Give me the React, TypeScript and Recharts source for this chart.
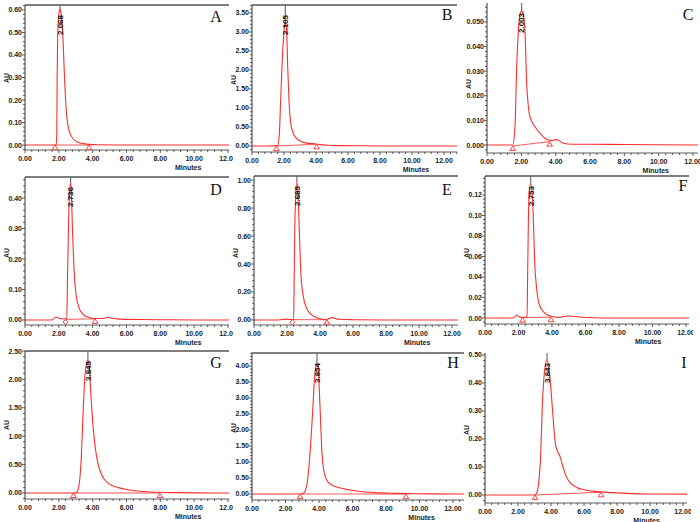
import React from "react";
import { ComposedChart, Line, Scatter, XAxis, YAxis, ReferenceLine } from "recharts";

const RED = "#ff2d2d";
const AXIS = "#333";
const SANS = "'Liberation Sans', Arial, sans-serif";
const SERIF = "'Liberation Serif', 'DejaVu Serif', serif";

const xMajors = [0, 2, 4, 6, 8, 10, 12];
const panelLetters = ["A", "B", "C", "D", "E", "F", "G", "H", "I"];

// chromatogram traces: minutes / AU
const timeA = [0, 1.0, 1.84, 1.88, 1.9, 1.93, 1.98, 2.03, 2.07, 2.12, 2.18, 2.23, 2.31, 2.4, 2.52, 2.7, 3.05, 3.64, 4.3, 6, 8, 10, 12.06];
const auA = [0, 0, 0, 0.05, 0.3, 0.48, 0.56, 0.595, 0.605, 0.59, 0.55, 0.5, 0.35, 0.2, 0.096, 0.044, 0.015, 0.004, 0.001, 0, 0, 0, 0];

const timeB = [0, 1.0, 1.6, 1.71, 1.79, 1.875, 1.96, 2.03, 2.08, 2.13, 2.17, 2.23, 2.31, 2.42, 2.58, 2.79, 3.1, 3.52, 3.94, 4.25, 4.77, 5.5, 7, 9, 12.81];
const auB = [0, 0, 0.01, 0.33, 1.21, 2.09, 2.79, 3.15, 3.25, 3.15, 2.97, 2.09, 1.21, 0.6, 0.33, 0.2, 0.11, 0.07, 0.06, 0.035, 0.018, 0.01, 0.005, 0, 0];

const timeC = [0, 1.0, 1.5, 1.63, 1.73, 1.83, 1.92, 2.02, 2.12, 2.21, 2.31, 2.41, 2.5, 2.8, 3.18, 3.57, 3.86, 4.0, 4.15, 4.45, 4.93, 6, 8, 10, 12.29];
const auC = [0, 0, 0, 0.0074, 0.0318, 0.0467, 0.0528, 0.0545, 0.0528, 0.0467, 0.0251, 0.0156, 0.0115, 0.0074, 0.004, 0.002, 0.0018, 0.0023, 0.0019, 0.0007, 0.0003, 0.0003, 0.0002, 0.0001, 0];

const timeD = [0, 1.6, 1.83, 2.0, 2.3, 2.47, 2.52, 2.58, 2.62, 2.7, 2.76, 2.82, 2.9, 3.01, 3.17, 3.41, 3.74, 4.14, 4.63, 4.87, 5.22, 6, 8, 10, 12.06];
const auD = [0, 0, 0.0098, 0.006, 0.004, 0.004, 0.164, 0.328, 0.404, 0.45, 0.383, 0.273, 0.164, 0.087, 0.044, 0.02, 0.009, 0.005, 0.005, 0.008, 0.005, 0.002, 0.001, 0, 0];

const timeE = [0, 1.5, 1.9, 2.2, 2.4, 2.44, 2.48, 2.52, 2.6, 2.69, 2.77, 2.85, 2.99, 3.19, 3.5, 3.9, 4.3, 4.75, 5.11, 6, 8, 12.36];
const auE = [0, 0, 0.006, 0.003, 0.005, 0.357, 0.714, 0.857, 0.988, 0.833, 0.548, 0.31, 0.167, 0.083, 0.036, 0.012, 0.002, 0.017, 0.005, 0.002, 0, 0];

const timeF = [0, 1.7, 1.89, 2.03, 2.3, 2.51, 2.55, 2.59, 2.63, 2.73, 2.83, 2.89, 2.97, 3.07, 3.22, 3.48, 3.88, 4.38, 4.97, 6, 8, 12.18];
const auF = [0, 0, 0.003, 0.0013, 0.0005, 0.0013, 0.047, 0.095, 0.122, 0.131, 0.118, 0.095, 0.053, 0.031, 0.0144, 0.0062, 0.002, 0.0006, 0.002, 0.0005, 0, 0];

const timeG = [0, 3.0, 3.05, 3.21, 3.33, 3.45, 3.54, 3.62, 3.72, 3.8, 3.88, 3.98, 4.1, 4.27, 4.53, 4.93, 5.52, 6.2, 7.19, 7.98, 8.96, 10, 12.06];
const auG = [0, 0, 0.006, 0.17, 0.64, 1.52, 2.05, 2.25, 2.34, 2.22, 1.81, 1.34, 0.93, 0.58, 0.32, 0.17, 0.094, 0.053, 0.023, 0.012, 0.006, 0.002, 0];

const timeH = [0, 2.9, 3.06, 3.26, 3.4, 3.52, 3.64, 3.74, 3.82, 3.88, 3.96, 4.02, 4.1, 4.18, 4.28, 4.46, 4.76, 5.35, 6.15, 7.34, 8.54, 9.53, 10.5, 12.66];
const auH = [0, 0, 0.02, 0.23, 0.85, 1.69, 2.73, 3.67, 4.0, 4.08, 3.875, 3.25, 2.21, 1.27, 0.75, 0.44, 0.28, 0.177, 0.1, 0.042, 0.02, 0.01, 0.003, 0];

const timeI = [0, 3.0, 3.13, 3.27, 3.37, 3.47, 3.56, 3.64, 3.76, 3.88, 4.0, 4.12, 4.26, 4.4, 4.55, 4.69, 4.89, 5.15, 5.55, 6.06, 6.87, 7.68, 8.89, 10.1, 12.24];
const auI = [0, 0, 0.006, 0.054, 0.137, 0.315, 0.41, 0.458, 0.482, 0.446, 0.375, 0.28, 0.185, 0.155, 0.137, 0.107, 0.071, 0.044, 0.027, 0.018, 0.012, 0.0083, 0.0048, 0.0036, 0.003];

// peak start / end marks (also the drawn baseline)
const markTime = [[1.77, 3.78], [1.52, 4.04], [1.5, 3.65], [2.4, 4.14], [2.32, 4.42], [2.25, 3.94], [2.86, 7.98], [2.87, 9.19], [3.03, 7.03]];
const markAu = [[0, 0], [0, 0.045], [-0.0004, 0.0014], [0.002, 0.004], [0.002, 0.002], [0.0004, 0.0008], [0, 0], [0, 0], [0, 0.01]];
const markKind = [["tri", "tri"], ["tri", "tri"], ["tri", "tri"], ["dia", "tri"], ["dia", "tri"], ["tri", "tri"], ["tri", "tri"], ["tri", "tri"], ["tri", "tri"]];

// retention time labels
const peakTime = [2.07, 2.08, 2.02, 2.7, 2.6, 2.73, 3.72, 3.88, 3.76];
const peakAu = [0.605, 3.25, 0.0545, 0.45, 0.988, 0.131, 2.34, 4.08, 0.482];
const peakText = ["2.068", "2.105", "2.003", "2.736", "2.685", "2.753", "3.845", "3.854", "3.843"];

// y axis labelled ticks
const yMajorsA = [0, 0.1, 0.2, 0.3, 0.4, 0.5, 0.6];
const yMajorsB = [0, 0.5, 1, 1.5, 2, 2.5, 3, 3.5];
const yMajorsC = [0, 0.01, 0.02, 0.03, 0.04, 0.05];
const yMajorsD = [0, 0.1, 0.2, 0.3, 0.4];
const yMajorsE = [0, 0.2, 0.4, 0.6, 0.8, 1.0];
const yMajorsF = [0, 0.02, 0.04, 0.06, 0.08, 0.1, 0.12];
const yMajorsG = [0, 0.5, 1, 1.5, 2, 2.5];
const yMajorsH = [0, 0.5, 1, 1.5, 2, 2.5, 3, 3.5, 4];
const yMajorsI = [0, 0.1, 0.2, 0.3, 0.4, 0.5];

const traces = [
  [timeA, auA], [timeB, auB], [timeC, auC],
  [timeD, auD], [timeE, auE], [timeF, auF],
  [timeG, auG], [timeH, auH], [timeI, auI],
];
const yMajors = [yMajorsA, yMajorsB, yMajorsC, yMajorsD, yMajorsE, yMajorsF, yMajorsG, yMajorsH, yMajorsI];

// plot boxes in page pixels + visible axis ranges
const LAYOUT = [
  { left: 25, top: 5, right: 229, bottom: 150, xMax: 12.06, yMin: -0.022, yMax: 0.622, dec: 2, topLine: true, lx: 216, ly: 17, auY: 78 },
  { left: 252, top: 5, right: 457, bottom: 152, xMax: 12.81, yMin: -0.158, yMax: 3.71, dec: 2, topLine: true, lx: 447, ly: 15, auY: 80 },
  { left: 487, top: 3, right: 698, bottom: 153, xMax: 12.29, yMin: -0.00325, yMax: 0.0577, dec: 3, topLine: false, lx: 688, ly: 15, auY: 84 },
  { left: 25, top: 177, right: 229, bottom: 325, xMax: 12.06, yMin: -0.0164, yMax: 0.469, dec: 2, topLine: true, lx: 216, ly: 190, auY: 253 },
  { left: 254, top: 176, right: 458, bottom: 325, xMax: 12.36, yMin: -0.036, yMax: 1.029, dec: 2, topLine: true, lx: 447, ly: 190, auY: 253 },
  { left: 485, top: 176, right: 689, bottom: 324, xMax: 12.18, yMin: -0.00585, yMax: 0.1385, dec: 2, topLine: true, lx: 683, ly: 186, auY: 253 },
  { left: 25, top: 351, right: 229, bottom: 499, xMax: 12.06, yMin: -0.106, yMax: 2.5, dec: 2, topLine: true, lx: 216, ly: 363, auY: 425 },
  { left: 252, top: 353, right: 464, bottom: 500, xMax: 12.66, yMin: -0.1875, yMax: 4.406, dec: 2, topLine: true, lx: 453, ly: 363, auY: 428 },
  { left: 485, top: 353, right: 687, bottom: 503, xMax: 12.24, yMin: -0.0286, yMax: 0.507, dec: 2, topLine: false, lx: 684, ly: 363, auY: 430 },
];

function subTicks(majors: number[], lo: number, hi: number, n = 5) {
  const step = (majors[1] - majors[0]) / n;
  const out: number[] = [];
  const k0 = Math.ceil((lo - majors[0]) / step - 1e-9);
  const k1 = Math.floor((hi - majors[0]) / step + 1e-9);
  for (let k = k0; k <= k1; k++) out.push(+(majors[0] + k * step).toFixed(6));
  return out;
}

const isMajor = (v: number, majors: number[]) => {
  const step = majors[1] - majors[0];
  return majors.some((m) => Math.abs(m - v) < step * 1e-3);
};

const labelStyle = { fontFamily: SANS, fontSize: 7, fontWeight: 700, fill: "#222" };

function XTick(props: any) {
  const { x, y, payload } = props;
  const major = isMajor(payload.value, xMajors);
  return (
    <g>
      <line x1={x} x2={x} y1={y} y2={y + (major ? 3 : 2)} stroke={AXIS} strokeWidth={0.8} />
      {major && (
        <text x={x} y={y + 11} textAnchor="middle" {...labelStyle}>
          {payload.value.toFixed(2)}
        </text>
      )}
    </g>
  );
}

function YTick(props: any) {
  const { x, y, payload, majors, dec } = props;
  const major = isMajor(payload.value, majors);
  return (
    <g>
      <line x1={x} x2={x - (major ? 3 : 2)} y1={y} y2={y} stroke={AXIS} strokeWidth={0.8} />
      {major && (
        <text x={x - 3} y={y + 2.5} textAnchor="end" {...labelStyle}>
          {payload.value.toFixed(dec)}
        </text>
      )}
    </g>
  );
}

function Marker(props: any) {
  const { cx, cy, payload } = props;
  if (payload.kind === "dia") {
    return <polygon points={`${cx},${cy} ${cx + 2.6},${cy + 2.6} ${cx},${cy + 5.2} ${cx - 2.6},${cy + 2.6}`} fill="#fff" stroke={RED} strokeWidth={0.9} />;
  }
  return <polygon points={`${cx},${cy} ${cx + 2.8},${cy + 4.6} ${cx - 2.8},${cy + 4.6}`} fill="#fff" stroke={RED} strokeWidth={0.9} />;
}

function PeakLabel(props: any) {
  const { cx, cy, payload } = props;
  const ay = cy + 10;
  return (
    <text
      x={cx}
      y={ay}
      dy="0.35em"
      textAnchor="end"
      transform={`rotate(-90 ${cx} ${ay})`}
      fontFamily={SANS}
      fontSize={8}
      fontWeight={700}
      fill="#111"
    >
      {payload.text}
    </text>
  );
}

function Panel({ i }: { i: number }) {
  const L = LAYOUT[i];
  const padL = 30, padT = 10, padR = 4, padB = 26;
  const w = L.right - L.left + padL + padR;
  const h = L.bottom - L.top + padT + padB;
  const [ts, vs] = traces[i];
  const data = ts.map((t, k) => ({ t, au: vs[k] }));
  const marks = markTime[i].map((t, k) => ({ t, au: markAu[i][k], kind: markKind[i][k] }));
  const peak = [{ t: peakTime[i], au: L.yMax, text: peakText[i] }];
  const xTicks = subTicks(xMajors, 0, L.xMax);
  const yTicks = subTicks(yMajors[i], L.yMin, L.yMax);
  return (
    <>
      <div style={{ position: "absolute", left: L.left - padL, top: L.top - padT }}>
        <ComposedChart width={w} height={h} data={data} margin={{ top: padT, right: padR, left: 0, bottom: 0 }}>
          <XAxis
            type="number"
            dataKey="t"
            domain={[0, L.xMax]}
            allowDataOverflow
            ticks={xTicks}
            interval={0}
            tickSize={0}
            tickMargin={0}
            tickLine={false}
            axisLine={{ stroke: AXIS, strokeWidth: 0.8 }}
            tick={(p: any) => <XTick {...p} />}
            height={padB}
          />
          <YAxis
            type="number"
            domain={[L.yMin, L.yMax]}
            allowDataOverflow
            ticks={yTicks}
            interval={0}
            tickSize={0}
            tickMargin={0}
            tickLine={false}
            axisLine={{ stroke: AXIS, strokeWidth: 1 }}
            tick={(p: any) => <YTick {...p} majors={yMajors[i]} dec={L.dec} />}
            width={padL}
          />
          {L.topLine && <ReferenceLine y={L.yMax} stroke="#555" strokeWidth={1.5} />}
          <ReferenceLine
            segment={[{ x: peakTime[i], y: peakAu[i] }, { x: peakTime[i], y: L.yMax }]}
            stroke="#555"
            strokeWidth={1}
          />
          <Line data={marks} dataKey="au" type="linear" stroke={RED} strokeWidth={0.8} dot={false} activeDot={false} isAnimationActive={false} />
          <Line dataKey="au" type="monotone" stroke={RED} strokeWidth={1.1} dot={false} activeDot={false} isAnimationActive={false} />
          <Scatter data={marks} dataKey="au" shape={(p: any) => <Marker {...p} />} isAnimationActive={false} />
          <Scatter data={peak} dataKey="au" shape={(p: any) => <PeakLabel {...p} />} isAnimationActive={false} />
        </ComposedChart>
      </div>
      <div
        style={{
          position: "absolute",
          left: L.left - 19,
          top: L.auY,
          transform: "translate(-50%, -50%) rotate(-90deg)",
          fontFamily: SANS,
          fontSize: 7,
          fontWeight: 700,
          color: "#222",
        }}
      >
        AU
      </div>
      <div
        style={{
          position: "absolute",
          left: L.left + 0.8 * (L.right - L.left),
          top: L.bottom + 17,
          transform: "translate(-50%, -50%)",
          fontFamily: SANS,
          fontSize: 7,
          fontWeight: 700,
          color: "#222",
        }}
      >
        Minutes
      </div>
      <div
        style={{
          position: "absolute",
          left: L.lx,
          top: L.ly,
          transform: "translate(-50%, -50%)",
          fontFamily: SERIF,
          fontSize: 16,
          color: "#111",
        }}
      >
        {panelLetters[i]}
      </div>
    </>
  );
}

export default function App() {
  return (
    <div style={{ position: "absolute", left: 0, top: 0, width: 700, height: 522, overflow: "hidden", background: "#fff" }}>
      {LAYOUT.map((_, i) => (
        <Panel key={i} i={i} />
      ))}
    </div>
  );
}
